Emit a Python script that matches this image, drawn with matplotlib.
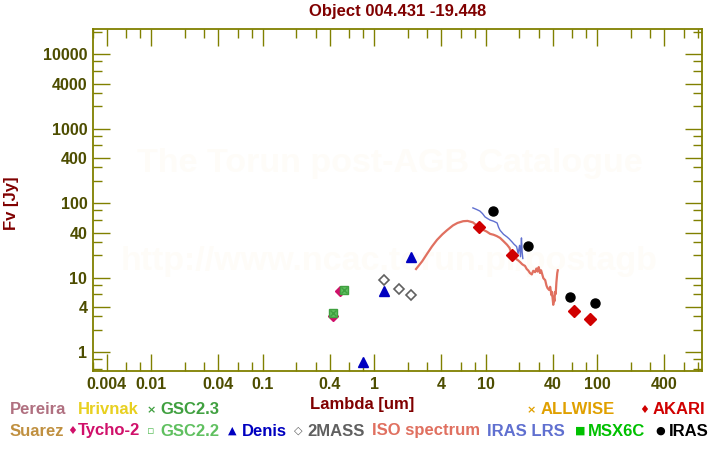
import matplotlib
matplotlib.use("Agg")
import matplotlib.pyplot as plt
from matplotlib.ticker import FixedLocator, FixedFormatter, NullFormatter

plt.rcParams['font.family'] = ['Liberation Sans', 'DejaVu Sans']
plt.rcParams['font.weight'] = 'bold'

# ---------------------------
# 1. Data
# ---------------------------
iso_wl = [2.38, 2.7, 3.0, 3.3, 3.67, 4.1, 4.5, 5.1, 5.6, 6.3, 6.9, 7.7, 8.2, 8.7,
          9.4, 10.2, 11.0, 11.8, 12.6, 13.5, 14.4, 15.6, 16.4, 17.3, 18.1, 19.0,
          19.6, 20.5, 21.4, 22.6, 23.4, 24.2, 25.0, 26.0, 26.8, 27.8, 28.6, 29.3,
          30.0, 30.8, 31.5, 33.0, 34.3, 35.2, 36.0, 37.2, 38.0, 39.0, 39.5, 40.0,
          40.5, 41.0, 41.5, 42.0, 42.6, 43.2, 44.0, 44.5]
iso_fl = [13.0, 16.5, 21.0, 26.0, 32.0, 38.0, 43.0, 50.0, 54.0, 57.0, 57.5, 55.0, 51.0, 47.0,
          44.0, 41.5, 38.5, 37.5, 36.0, 34.0, 31.0, 27.5, 25.0, 20.5, 21.0, 17.5,
          17.0, 16.0, 15.0, 14.3, 13.0, 12.4, 11.5, 11.0, 12.3, 11.8, 13.2, 12.0,
          13.8, 11.5, 12.5, 9.8, 9.2, 7.8, 7.2, 6.8, 7.5, 5.8, 6.4, 5.2,
          4.3, 5.5, 4.8, 6.4, 6.0, 8.5, 11.5, 12.5]

lrs_wl = [7.7, 8.3, 8.9, 9.4, 9.9, 10.4, 11.0, 11.8, 12.7, 13.1, 13.5, 14.5, 15.6,
          16.3, 17.3, 18.0, 19.0, 19.6, 20.2, 20.6, 21.0, 21.3, 21.6]
lrs_fl = [86.0, 82.0, 78.0, 72.0, 65.0, 62.0, 59.0, 57.0, 54.0, 47.0, 43.0, 38.0, 35.0,
          33.0, 30.0, 28.0, 26.0, 21.0, 27.0, 19.0, 34.0, 22.0, 18.0]

tycho_wl = [0.43, 0.49]
tycho_fl = [3.0, 6.5]
gsc22_wl = [0.43, 0.54]
gsc22_fl = [3.3, 6.8]
gsc23_wl = [0.43, 0.54]
gsc23_fl = [3.3, 6.8]
denis_wl = [0.80, 1.22, 2.15]
denis_fl = [0.73, 6.6, 19.0]
twomass_wl = [1.235, 1.66, 2.16]
twomass_fl = [9.2, 7.0, 5.8]
akari_wl = [8.8, 17.3, 62.0, 86.0]
akari_fl = [47.0, 20.0, 3.5, 2.77]
iras_wl = [11.7, 24.0, 57.0, 96.0]
iras_fl = [78.0, 26.5, 5.5, 4.5]

xticks = [0.004, 0.01, 0.04, 0.1, 0.4, 1, 4, 10, 40, 100, 400]
xticklabels = ["0.004", "0.01", "0.04", "0.1", "0.4", "1", "4", "10", "40", "100", "400"]
yticks = [1, 4, 10, 40, 100, 400, 1000, 4000, 10000]
yticklabels = ["1", "4", "10", "40", "100", "400", "1000", "4000", "10000"]
minor_mult = [2, 3, 6, 8]

# ---------------------------
# 2. Plot
# ---------------------------
olive = "#808000"
dark = "#800000"
fig = plt.figure(figsize=(7.2, 4.5), dpi=100)
ax = fig.add_axes([0.129, 0.1756, 0.846, 0.76])

ax.text(0.487, 0.608, "The Torun post-AGB Catalogue", transform=ax.transAxes,
        ha="center", va="center", fontsize=24.5, color="#fefcf8", zorder=0)
ax.text(0.487, 0.319, "http://www.ncac.torun.pl/postagb", transform=ax.transAxes,
        ha="center", va="center", fontsize=24.5, color="#fefcf8", zorder=0)

ax.plot(iso_wl, iso_fl, color="#e07060", lw=1.6, zorder=2)
ax.plot(lrs_wl, lrs_fl, color="#6070d0", lw=1.0, zorder=3)

ax.plot(gsc22_wl, gsc22_fl, "s", mfc="#60c060", mec="#40a040", ms=6, ls="none", zorder=4)
ax.plot(gsc23_wl, gsc23_fl, "x", color="#40a040", ms=4, mew=1, ls="none", zorder=5)
ax.plot(tycho_wl, tycho_fl, "D", color="#d0106a", ms=5, ls="none", zorder=3)
ax.plot(denis_wl, denis_fl, "^", color="#0000c0", ms=7, ls="none", zorder=4)
ax.plot(twomass_wl, twomass_fl, "D", mfc="white", mec="#606060", mew=1.2, ms=5.5, ls="none", zorder=4)
ax.plot(akari_wl, akari_fl, "D", color="#d00000", ms=6.5, ls="none", zorder=5)
ax.plot(iras_wl, iras_fl, "o", color="black", ms=6.5, ls="none", zorder=5)

ax.set_xscale("log")
ax.set_yscale("log")
ax.set_xlim(0.003, 875)
ax.set_ylim(0.556, 21700)

ax.xaxis.set_major_locator(FixedLocator(xticks))
ax.xaxis.set_major_formatter(FixedFormatter(xticklabels))
ax.xaxis.set_minor_locator(FixedLocator([m * 10.0 ** k for k in range(-3, 3) for m in minor_mult]))
ax.xaxis.set_minor_formatter(NullFormatter())
ax.yaxis.set_major_locator(FixedLocator(yticks))
ax.yaxis.set_major_formatter(FixedFormatter(yticklabels))
ax.yaxis.set_minor_locator(FixedLocator([m * 10.0 ** k for k in range(-1, 5) for m in minor_mult]))
ax.yaxis.set_minor_formatter(NullFormatter())

for s in ax.spines.values():
    s.set_color(olive)
    s.set_linewidth(1.3)
ax.tick_params(which="both", direction="in", color=olive, top=True, right=True, width=1)
ax.tick_params(which="major", length=12, labelsize=11.5, labelcolor="#4d4d00", pad=4)
ax.tick_params(which="minor", length=6.5)

ax.set_title("Object 004.431 -19.448", color=dark, fontsize=12, fontweight="bold", pad=9)
ax.set_ylabel("Fv [Jy]", color=dark, fontsize=12, fontweight="bold")
ax.yaxis.set_label_coords(-0.122, 0.49)
fig.text(0.503, 0.102, "Lambda [um]", color=dark, fontsize=12, fontweight="bold", ha="center", va="center")

# ---------------------------
# 3. Legend rows (symbol x, label x, y, symbol, label, colour)
# ---------------------------
legend = [
    (None, 10, 410, "", "Pereira", "#b07080"),
    (None, 78, 410, "", "Hrivnak", "#e8d020"),
    (147, 160, 410, "\u00d7", "GSC2.3", "#40a040"),
    (527, 541, 410, "\u00d7", "ALLWISE", "#e0a000"),
    (639, 653, 410, "\u2666", "AKARI", "#d00000"),
    (None, 10, 431, "", "Suarez", "#c09040"),
    (67, 78, 431, "\u2666", "Tycho-2", "#d0106a"),
    (147, 160, 431, "\u25ab", "GSC2.2", "#60c060"),
    (228, 242, 431, "\u25b2", "Denis", "#0000c0"),
    (294, 307, 431, "\u25c7", "2MASS", "#606060"),
    (None, 372, 431, "", "ISO spectrum", "#e07060"),
    (None, 487, 431, "", "IRAS LRS", "#6070d0"),
    (575, 588, 431, "\u25a0", "MSX6C", "#00c000"),
    (655, 669, 431, "\u25cf", "IRAS", "black"),
]
for sx, lx, py, sym, txt, col in legend:
    if sx is not None:
        fig.text(sx / 720, 1 - py / 450, sym, color=col, fontsize=8, va="center",
                 family=["DejaVu Sans"])
    fig.text(lx / 720, 1 - py / 450, txt, color=col, fontsize=12, fontweight="bold", va="center")

fig.savefig("out.png", dpi=100)
